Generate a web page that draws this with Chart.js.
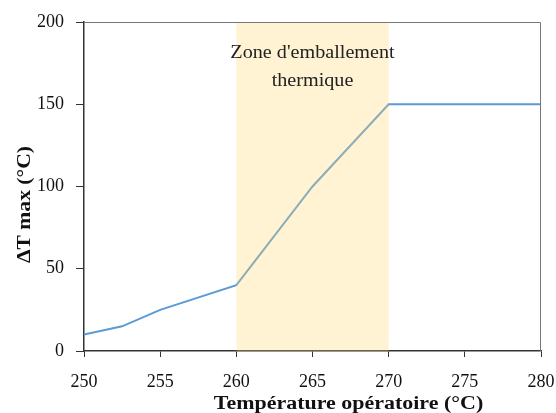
<!DOCTYPE html>
<html>
<head>
<meta charset="utf-8">
<script src="https://cdn.jsdelivr.net/npm/chart.js@4"></script>
<style>
  html, body { margin: 0; padding: 0; background: #fff; }
  #wrap { width: 556px; height: 413px; }
</style>
</head>
<body>
<div id="wrap"><canvas id="deltaChart"></canvas></div>
<script>
// data
const temperatures = [250, 252.5, 255, 260, 265, 270, 280];
const deltaTMax = [10, 15, 25, 40, 100, 150, 150];
const zoneStart = 260;
const zoneEnd = 270;
const zoneLines = ["Zone d'emballement", 'thermique'];
const xTitle = 'Température opératoire (°C)';
const yTitle = 'ΔT max (°C)';

const serif = '"Liberation Serif", "DejaVu Serif", serif';
const axisColor = '#333';

// draw text stretched sideways, the reference font is wider than ours
function wideText(ctx, text, x, y, stretch) {
  ctx.save();
  ctx.translate(x, y);
  ctx.scale(stretch, 1);
  ctx.fillText(text, 0, 0);
  ctx.restore();
}

// shaded zone, frame and titles
const zonePlugin = {
  id: 'zone',
  afterDatasetsDraw(chart) {
    const { ctx, chartArea, scales } = chart;
    const x1 = scales.x.getPixelForValue(zoneStart);
    const x2 = scales.x.getPixelForValue(zoneEnd);
    ctx.save();
    ctx.fillStyle = 'rgba(255, 215, 110, 0.3)';
    ctx.fillRect(x1, chartArea.top, x2 - x1, chartArea.bottom - chartArea.top);

    ctx.fillStyle = '#222';
    ctx.font = '18px ' + serif;
    ctx.textAlign = 'center';
    ctx.textBaseline = 'middle';
    const cx = (x1 + x2) / 2;
    wideText(ctx, zoneLines[0], cx, chartArea.top + 31, 1.12);
    wideText(ctx, zoneLines[1], cx, chartArea.top + 59, 1.12);

    ctx.strokeStyle = '#777';
    ctx.lineWidth = 1;
    ctx.beginPath();
    ctx.moveTo(chartArea.left, chartArea.top + 0.5);
    ctx.lineTo(chartArea.right - 0.5, chartArea.top + 0.5);
    ctx.lineTo(chartArea.right - 0.5, chartArea.bottom);
    ctx.stroke();

    // axis titles
    ctx.fillStyle = '#111';
    ctx.font = 'bold 18px ' + serif;
    wideText(ctx, xTitle, chartArea.left + (chartArea.right - chartArea.left) / 2 + 36, 404, 1.22);
    ctx.translate(25, (chartArea.top + chartArea.bottom) / 2 + 18);
    ctx.rotate(-Math.PI / 2);
    wideText(ctx, yTitle, 0, 0, 1.2);
    ctx.restore();
  }
};

new Chart(document.getElementById('deltaChart'), {
  type: 'line',
  data: {
    datasets: [{
      data: temperatures.map((t, i) => ({ x: t, y: deltaTMax[i] })),
      borderColor: '#5b9bd5',
      borderWidth: 2,
      pointRadius: 0,
      tension: 0,
      fill: false
    }]
  },
  options: {
    responsive: true,
    maintainAspectRatio: false,
    animation: false,
    layout: { padding: { top: 22, right: 15, left: 0, bottom: 0 } },
    plugins: { legend: { display: false }, tooltip: { enabled: false } },
    scales: {
      x: {
        type: 'linear',
        min: 250,
        max: 280,
        ticks: { stepSize: 5, color: '#111', font: { family: serif, size: 18 }, padding: 14, maxRotation: 0 },
        grid: { drawOnChartArea: false, drawTicks: true, tickLength: 6, color: axisColor },
        border: { color: axisColor, width: 1.5 },
        afterFit(scale) {
          scale.height = 62;
          scale.paddingLeft = 0;
          scale.paddingRight = 0;
        }
      },
      y: {
        min: 0,
        max: 200,
        ticks: { stepSize: 50, color: '#111', font: { family: serif, size: 18 }, padding: 12 },
        grid: { drawOnChartArea: false, drawTicks: true, tickLength: 8, color: axisColor },
        border: { color: axisColor, width: 1.5 },
        afterFit(scale) {
          scale.width = 84;
          scale.paddingTop = 0;
          scale.paddingBottom = 0;
        }
      }
    }
  },
  plugins: [zonePlugin]
});
</script>
</body>
</html>
